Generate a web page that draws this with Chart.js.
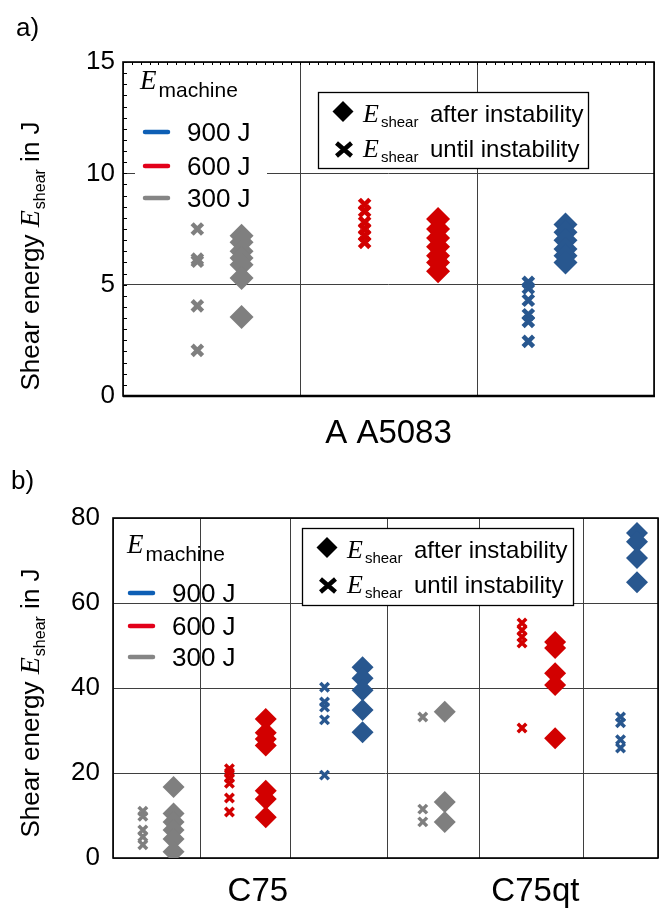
<!DOCTYPE html>
<html>
<head>
<meta charset="utf-8">
<script src="https://cdn.jsdelivr.net/npm/chart.js@4"></script>
<style>
  html, body { margin: 0; padding: 0; background: #fff; width: 672px; height: 909px; overflow: hidden; }
  canvas { display: block; position: absolute; left: 0; }
  #ca { top: 0; }
  #cb { top: 460px; }
</style>
</head>
<body>
<canvas id="ca" width="672" height="460"></canvas>
<canvas id="cb" width="672" height="449"></canvas>
<script>
// ================= DATA =================
// Panel a) AA5083 — columns = machine energy 300 J / 600 J / 900 J
const aColumns = ['300 J', '600 J', '900 J'];
const aGroupLabels = ['A A5083'];
const aYTicks = [0, 5, 10, 15];
const aGrayUntil = [7.5, 6.15, 6.05, 4.05, 2.05];
const aGrayAfter = [7.2, 6.9, 6.5, 6.2, 5.9, 5.3, 3.55];
const aRedUntil  = [8.6, 8.3, 7.8, 7.5, 7.2, 6.9];
const aRedAfter  = [7.95, 7.5, 7.1, 6.7, 6.3, 6.0, 5.6];
const aBlueUntil = [5.1, 4.85, 4.3, 3.65, 3.35, 2.45];
const aBlueAfter = [7.7, 7.35, 7.0, 6.6, 6.3, 6.0];

// Panel b) C75 and C75qt — columns = 300 / 600 / 900 J for each material
const bColumns = ['C75 300 J', 'C75 600 J', 'C75 900 J', 'C75qt 300 J', 'C75qt 600 J', 'C75qt 900 J'];
const bGroupLabels = ['C75', 'C75qt'];
const bYTicks = [0, 20, 40, 60, 80];
const bC75GrayUntil = [11.0, 9.8, 6.6, 5.0, 3.1];
const bC75GrayAfter = [16.7, 10.5, 8.5, 6.6, 4.5, 1.5];
const bC75RedUntil  = [21.0, 20.0, 18.8, 17.6, 14.1, 10.8];
const bC75RedAfter  = [32.7, 29.5, 28.0, 26.5, 15.8, 13.9, 9.6];
const bC75BlueUntil = [40.2, 36.7, 35.5, 32.5, 19.5];
const bC75BlueAfter = [44.9, 42.3, 39.5, 34.8, 29.6];
const bQtGrayUntil  = [33.2, 11.5, 8.5];
const bQtGrayAfter  = [34.4, 13.2, 8.5];
const bQtRedUntil   = [55.3, 53.6, 52.0, 50.6, 30.6];
const bQtRedAfter   = [50.8, 49.4, 43.5, 40.7, 28.2];
const bQtBlueUntil  = [33.2, 31.8, 27.8, 25.9];
const bQtBlueAfter  = [76.5, 74.4, 70.6, 64.9];

// Legend texts
const machineLegendTitle = ['E', 'machine'];
const machineLegend = ['900 J', '600 J', '300 J'];
const markerLegend = ['after instability', 'until instability'];
const yTitle = ['Shear energy ', 'E', 'shear', ' in J'];

// ================= STYLE / LAYOUT =================
const SANS = "'Liberation Sans', Arial, Helvetica, sans-serif";
const SERIF = "'Liberation Serif', 'Times New Roman', serif";
const GRID = '#3f3f3f';
const C_GRAY = '#7f7f7f', C_RED = '#d20000', C_BLUE = '#28578f';
const L_BLUE = '#0e5fb5', L_RED = '#e2001a', L_GRAY = '#858585';

const LA = {
  edges: [0, 1, 2, 3], labelPos: [1.5],
  until: [0.42, 0.365, 0.29], after: [0.67, 0.78, 0.50],
  d: 12, c: 7.4, cw: 4.5
};
const LB = {
  edges: [0, 0.966, 1.953, 3.027, 4.036, 5.175, 6], labelPos: [1.595, 4.65],
  until: [0.34, 0.32, 0.35, 0.38, 0.41, 0.50], after: [0.69, 0.725, 0.74, 0.62, 0.73, 0.72],
  d: 11, c: 6, cw: 3.5
};

function series(values, col, kind, color, L) {
  const x = L.edges[col] + L[kind][col] * (L.edges[col + 1] - L.edges[col]);
  const after = kind === 'after';
  return {
    data: values.map(v => ({ x: x, y: v })),
    pointStyle: after ? 'rectRot' : 'crossRot',
    pointRadius: after ? L.d : L.c,
    pointBorderWidth: after ? 0 : L.cw,
    pointBackgroundColor: color,
    pointBorderColor: color,
    showLine: false
  };
}

function near(a, b) { return Math.abs(a - b) < 1e-6; }

function xScale(L, labels, height, pad) {
  return {
    type: 'linear', position: 'bottom',
    min: L.edges[0], max: L.edges[L.edges.length - 1],
    afterBuildTicks: s => { s.ticks = [...L.edges, ...L.labelPos].sort((p, q) => p - q).map(v => ({ value: v })); },
    afterFit: s => { s.height = height; },
    grid: {
      color: c => (c.tick && L.edges.some(e => near(e, c.tick.value))) ? GRID : 'rgba(0,0,0,0)',
      lineWidth: 1, drawTicks: false
    },
    border: { display: false },
    ticks: {
      autoSkip: false, maxRotation: 0, minRotation: 0, padding: pad, color: '#000',
      font: { family: SANS, size: 33 },
      callback: v => { const i = L.labelPos.findIndex(p => near(p, v)); return i >= 0 ? labels[i] : ''; }
    }
  };
}

function yScale(max, ticks, width, pad) {
  return {
    min: 0, max: max,
    afterBuildTicks: s => { s.ticks = ticks.map(v => ({ value: v })); },
    afterFit: s => { s.width = width; },
    grid: { color: GRID, lineWidth: 1, drawTicks: false },
    border: { display: false },
    ticks: { padding: pad, color: '#000', font: { family: SANS, size: 26 } }
  };
}

function drawRich(ctx, segs, x, y) {
  let cx = x;
  for (const s of segs) {
    ctx.font = s.font;
    ctx.fillText(s.text, cx, y + (s.dy || 0));
    cx += ctx.measureText(s.text).width + (s.gap || 0);
  }
}
function richWidth(ctx, segs) {
  let w = 0;
  for (const s of segs) { ctx.font = s.font; w += ctx.measureText(s.text).width + (s.gap || 0); }
  return w;
}

function panelPlugin(P) {
  return {
    id: 'panel' + P.id,
    beforeDatasetsDraw(chart) {
      const { ctx, chartArea: a } = chart;
      ctx.save();
      ctx.strokeStyle = '#000';
      if (P.minorStep) {
        const ys = chart.scales.y;
        ctx.lineWidth = 1;
        for (let v = ys.min; v <= ys.max + 1e-9; v += P.minorStep) {
          const py = Math.round(ys.getPixelForValue(v)) + 0.5;
          ctx.beginPath(); ctx.moveTo(a.left, py); ctx.lineTo(a.left + 4, py); ctx.stroke();
        }
        const xs = chart.scales.x;
        for (let v = xs.min; v <= xs.max + 1e-9; v += P.minorStepX) {
          const px = Math.round(xs.getPixelForValue(v)) + 0.5;
          ctx.beginPath(); ctx.moveTo(px, a.top); ctx.lineTo(px, a.top + 3); ctx.stroke();
        }
      }
      ctx.lineWidth = P.frame;
      ctx.strokeRect(a.left, a.top, a.right - a.left, a.bottom - a.top);
      if (P.bottomFrame) {
        ctx.lineWidth = P.bottomFrame;
        ctx.beginPath(); ctx.moveTo(a.left, a.bottom); ctx.lineTo(a.right + 1, a.bottom); ctx.stroke();
      }
      ctx.restore();
    },
    afterDatasetsDraw(chart) {
      const ctx = chart.ctx;
      ctx.save();
      ctx.fillStyle = '#000';
      ctx.textAlign = 'left';
      ctx.textBaseline = 'alphabetic';

      // panel label
      ctx.font = '26px ' + SANS;
      ctx.fillText(P.panel, P.panelX, P.panelY);

      // y-axis title (rotated)
      const segs = [
        { text: yTitle[0], font: '26px ' + SANS },
        { text: yTitle[1], font: 'italic 28px ' + SERIF, gap: 1 },
        { text: yTitle[2], font: '16px ' + SANS, dy: 6 },
        { text: yTitle[3], font: '26px ' + SANS }
      ];
      ctx.save();
      ctx.translate(P.yTitleX, P.yTitleY);
      ctx.rotate(-Math.PI / 2);
      drawRich(ctx, segs, -richWidth(ctx, segs) / 2, 0);
      ctx.restore();

      // machine-energy legend
      const M = P.mLeg;
      if (M.fill) { ctx.fillStyle = '#fff'; ctx.fillRect(M.fill[0], M.fill[1], M.fill[2], M.fill[3]); ctx.fillStyle = '#000'; }
      drawRich(ctx, [
        { text: machineLegendTitle[0], font: 'italic 27px ' + SERIF, gap: 2 },
        { text: machineLegendTitle[1], font: '21px ' + SANS, dy: 8 }
      ], M.eX, M.eY);
      const lc = [L_BLUE, L_RED, L_GRAY];
      for (let i = 0; i < machineLegend.length; i++) {
        ctx.strokeStyle = lc[i]; ctx.lineWidth = 4.5; ctx.lineCap = 'round';
        ctx.beginPath(); ctx.moveTo(M.lx0, M.rows[i]); ctx.lineTo(M.lx1, M.rows[i]); ctx.stroke();
        ctx.font = '26px ' + SANS; ctx.textBaseline = 'middle'; ctx.fillStyle = '#000';
        ctx.fillText(machineLegend[i], M.tx, M.rows[i] + 1.5);
        ctx.textBaseline = 'alphabetic';
      }

      // marker legend box
      const B = P.box;
      ctx.fillStyle = '#fff';
      ctx.fillRect(B.x, B.y, B.w, B.h);
      ctx.strokeStyle = '#000'; ctx.lineWidth = 1.3; ctx.lineCap = 'butt';
      ctx.strokeRect(B.x + 0.5, B.y + 0.5, B.w, B.h);
      ctx.fillStyle = '#000';
      // diamond
      const dx = B.x + 25, dy = B.y + 19.5, r = 10.5;
      ctx.beginPath(); ctx.moveTo(dx - r, dy); ctx.lineTo(dx, dy - r); ctx.lineTo(dx + r, dy); ctx.lineTo(dx, dy + r); ctx.closePath(); ctx.fill();
      // cross
      const cx = B.x + 26, cy = B.y + 57.5;
      ctx.lineWidth = 4.5;
      ctx.beginPath(); ctx.moveTo(cx - 7.5, cy - 6.5); ctx.lineTo(cx + 7.5, cy + 6.5);
      ctx.moveTo(cx - 7.5, cy + 6.5); ctx.lineTo(cx + 7.5, cy - 6.5); ctx.stroke();
      for (let i = 0; i < markerLegend.length; i++) {
        const by = B.y + (i === 0 ? 30 : 65);
        drawRich(ctx, [
          { text: 'E', font: 'italic 26px ' + SERIF, gap: 2 },
          { text: 'shear', font: '15px ' + SANS, dy: 5 }
        ], B.x + 45, by);
        ctx.font = '24px ' + SANS;
        ctx.fillText(markerLegend[i], B.x + 112, by);
      }
      ctx.restore();
    }
  };
}

function baseOptions(scales, padTop, padRight) {
  return {
    responsive: false, devicePixelRatio: 1, animation: false, events: [],
    layout: { padding: { top: padTop, right: padRight, left: 0, bottom: 0 } },
    plugins: { legend: { display: false }, tooltip: { enabled: false } },
    scales: scales
  };
}

// ================= CHART a) =================
new Chart(document.getElementById('ca'), {
  type: 'scatter',
  data: {
    datasets: [
      series(aGrayUntil, 0, 'until', C_GRAY, LA),
      series(aGrayAfter, 0, 'after', C_GRAY, LA),
      series(aRedUntil, 1, 'until', C_RED, LA),
      series(aRedAfter, 1, 'after', C_RED, LA),
      series(aBlueUntil, 2, 'until', C_BLUE, LA),
      series(aBlueAfter, 2, 'after', C_BLUE, LA)
    ]
  },
  options: baseOptions({
    x: xScale(LA, aGroupLabels, 64, 18),
    y: yScale(15, aYTicks, 123, 8)
  }, 62, 7),
  plugins: [panelPlugin({
    id: 'a', panel: 'a)', panelX: 16, panelY: 36,
    yTitleX: 39, yTitleY: 256,
    frame: 1.6, bottomFrame: 2.6, minorStep: 0.5, minorStepX: 0.05,
    mLeg: { fill: [135, 66, 132, 146], eX: 140, eY: 89, lx0: 145, lx1: 168, rows: [132, 166, 198], tx: 187 },
    box: { x: 318, y: 92, w: 270, h: 76 }
  })]
});

// ================= CHART b) =================
new Chart(document.getElementById('cb'), {
  type: 'scatter',
  data: {
    datasets: [
      series(bC75GrayUntil, 0, 'until', C_GRAY, LB),
      series(bC75GrayAfter, 0, 'after', C_GRAY, LB),
      series(bC75RedUntil, 1, 'until', C_RED, LB),
      series(bC75RedAfter, 1, 'after', C_RED, LB),
      series(bC75BlueUntil, 2, 'until', C_BLUE, LB),
      series(bC75BlueAfter, 2, 'after', C_BLUE, LB),
      series(bQtGrayUntil, 3, 'until', C_GRAY, LB),
      series(bQtGrayAfter, 3, 'after', C_GRAY, LB),
      series(bQtRedUntil, 4, 'until', C_RED, LB),
      series(bQtRedAfter, 4, 'after', C_RED, LB),
      series(bQtBlueUntil, 5, 'until', C_BLUE, LB),
      series(bQtBlueAfter, 5, 'after', C_BLUE, LB)
    ]
  },
  options: baseOptions({
    x: xScale(LB, bGroupLabels, 51, 14),
    y: yScale(80, bYTicks, 113, 13)
  }, 58, 6),
  plugins: [panelPlugin({
    id: 'b', panel: 'b)', panelX: 11, panelY: 29,
    yTitleX: 39, yTitleY: 243,
    frame: 1.6, bottomFrame: 0, minorStep: 0,
    mLeg: { fill: null, eX: 127, eY: 93, lx0: 130, lx1: 153, rows: [133, 166, 197], tx: 172 },
    box: { x: 302, y: 68, w: 271, h: 77 }
  })]
});
</script>
</body>
</html>
